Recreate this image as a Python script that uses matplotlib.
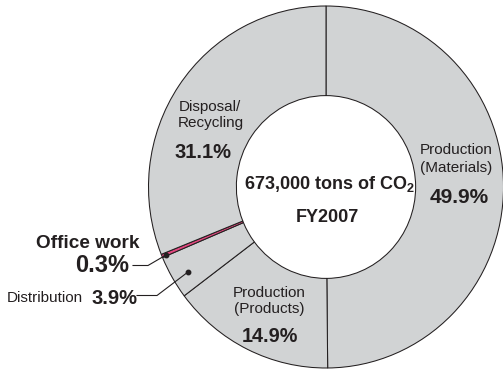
import matplotlib
matplotlib.use("Agg")
import matplotlib.pyplot as plt
from matplotlib import font_manager
from matplotlib.transforms import Affine2D

# CO2 emissions by life-cycle stage, FY2007 (percent of total)
sectors = ["Production\n(Materials)", "Production\n(Products)", "Distribution",
           "Office work", "Disposal/\nRecycling"]
shares = [49.9, 14.9, 3.9, 0.3, 31.1]
pct_labels = ["49.9%", "14.9%", "3.9%", "0.3%", "31.1%"]
total_text = "673,000 tons of CO$_2$"
year_text = "FY2007"

GREY = "#d1d3d4"
EDGE = "#231f20"
PINK = "#e2487f"
INK = "#231f20"

names = {f.name for f in font_manager.fontManager.ttflist}
NARROW = "Liberation Sans Narrow" if "Liberation Sans Narrow" in names else "Liberation Sans"
REG_SIZE = 12.4 if NARROW == "Liberation Sans Narrow" else 11
BOLD = "Liberation Sans"

plt.rcParams["mathtext.fontset"] = "custom"
plt.rcParams["mathtext.rm"] = "Liberation Sans:bold"
plt.rcParams["mathtext.default"] = "rm"

W, H = 503, 369
fig = plt.figure(figsize=(W / 100, H / 100), dpi=100)
ax = fig.add_axes([0, 0, 1, 1])

# ring is slightly taller than wide; y data units are squeezed by k
cx, cy = 326, 187
rx, ry = 177.5, 181
k = rx / ry

colors = [PINK if s == "Office work" else GREY for s in sectors]
ax.pie(shares, startangle=90, counterclock=False,
       center=(cx, (H - cy) * k), radius=rx, colors=colors,
       wedgeprops=dict(width=rx * 0.495, edgecolor=EDGE, linewidth=0.75))
ax.set_xlim(0, W)
ax.set_ylim(0, H * k)
ax.set_aspect("auto")
ax.axis("off")

# pixel coordinates measured from the top-left corner
px = Affine2D().scale(1 / 100, -1 / 100).translate(0, H / 100) + fig.dpi_scale_trans


def reg(x, y, s, ha="center"):
    ax.text(x, y, s, transform=px, ha=ha, va="baseline", family=NARROW,
            fontsize=REG_SIZE, color=INK)


def bold(x, y, s, size, ha="center"):
    ax.text(x, y, s, transform=px, ha=ha, va="baseline", family=BOLD,
            fontweight="bold", fontsize=size, color=INK)


# Production (Materials)
reg(456, 154, sectors[0].split("\n")[0])
reg(456, 172, sectors[0].split("\n")[1])
bold(459, 203, pct_labels[0], 15)

# Production (Products)
reg(269, 297, sectors[1].split("\n")[0])
reg(269, 313, sectors[1].split("\n")[1])
bold(270, 341.5, pct_labels[1], 14.3)

# Disposal/Recycling
reg(210, 111.5, sectors[4].split("\n")[0])
reg(211, 126.5, sectors[4].split("\n")[1])
bold(203, 158, pct_labels[4], 14.5)

# Office work, with leader line
bold(140, 247.5, sectors[3], 13.7, ha="right")
bold(129, 272, pct_labels[3], 17, ha="right")
ax.plot([133, 148, 166], [265.5, 265.5, 255], transform=px, color=EDGE, lw=0.8)
ax.plot([166], [255], "o", ms=3.2, color=EDGE, transform=px)

# Distribution, with leader line
reg(83, 302, sectors[2], ha="right")
bold(137, 304, pct_labels[2], 14.5, ha="right")
ax.plot([137, 157, 188], [295.5, 295.5, 272], transform=px, color=EDGE, lw=0.8)
ax.plot([188], [272], "o", ms=3.2, color=EDGE, transform=px)

# centre text
bold(329, 188.5, total_text, 13)
bold(327.5, 221.5, year_text, 13)

fig.savefig("out.png", dpi=100)
